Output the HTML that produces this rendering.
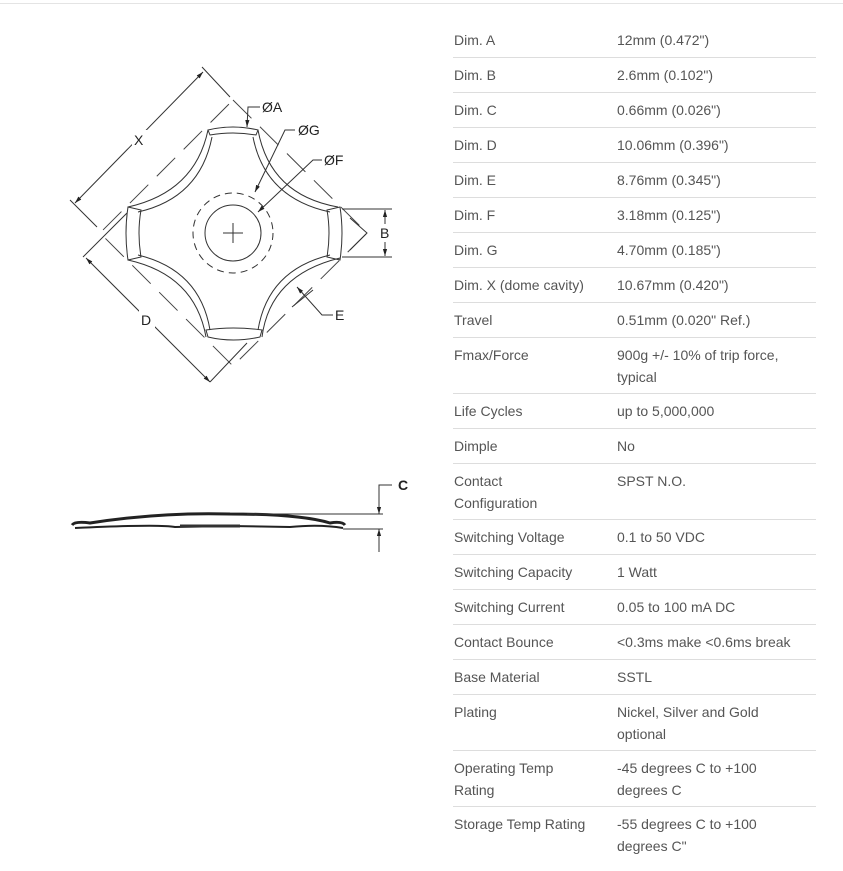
<!DOCTYPE html>
<html><head><meta charset="utf-8"><style>
body{margin:0;width:843px;height:871px;background:#fff;position:relative;overflow:hidden;font-family:"Liberation Sans",sans-serif;}
.t{position:absolute;font-size:14px;line-height:22px;color:#555;}
.l{position:absolute;left:453px;width:363px;height:1px;background:#ddd;}
</style></head><body>
<div style="position:absolute;left:0;top:3px;width:843px;height:1px;background:#e4e4e4"></div>
<svg width="843" height="871" style="position:absolute;left:0;top:0" font-family="Liberation Sans, sans-serif">
<defs><marker id="ar" viewBox="0 0 10 10" refX="10" refY="5" markerWidth="7" markerHeight="7" orient="auto-start-reverse"><path d="M0,2 L10,5 L0,8z" fill="#222"/></marker></defs>
<g fill="none" stroke="#333" stroke-width="1">
<path d="M208,130 Q233,124 258,130 L256,135 Q233,131 210,135 Z"/>
<path d="M208,337 Q233,343 260,337 L262,330 Q233,326 206,330 Z"/>
<path d="M128,207 Q124,233 128,260 L141,257 Q137,233 141,210 Z"/>
<path d="M340,207 Q344,233 340,260 L327,257 Q331,233 327,210 Z"/>
<path d="M258,130 Q270,195 338,207"/>
<path d="M340,258 Q270,275 262,337"/>
<path d="M206,337 Q195,275 128,260"/>
<path d="M128,207 Q195,192 208,130"/>
<path d="M253,137 Q265,198 330,212"/>
<path d="M330,255 Q268,270 258,330"/>
<path d="M210,330 Q200,270 138,255"/>
<path d="M138,212 Q200,198 212,137"/>
<path d="M233,100 L367,233 L233,366 L100,233 Z" stroke-dasharray="26 12" stroke="#444"/>
<circle cx="233" cy="233" r="28"/>
<circle cx="233" cy="233" r="40" stroke-dasharray="7 5"/>
<path d="M233,223 V243 M223,233 H243"/>
<path d="M202,67 L230,97 M70,200 L97,227"/>
<line x1="203" y1="72" x2="75" y2="203" marker-start="url(#ar)" marker-end="url(#ar)"/>
<path d="M83,257 L127,213 M210,382 L247,343"/>
<line x1="86" y1="258" x2="210" y2="382" marker-start="url(#ar)" marker-end="url(#ar)"/>
<path d="M342,209 H392 M342,257 H392"/>
<line x1="385" y1="210" x2="385" y2="256" marker-start="url(#ar)" marker-end="url(#ar)"/>
<path d="M350,218 L367,233 L350,250"/>
<path d="M260,107 H248 L247,127" marker-end="url(#ar)"/>
<path d="M295,130 H285 L255,192" marker-end="url(#ar)"/>
<path d="M322,160 H313 L258,212" marker-end="url(#ar)"/>
<path d="M333,315 H322 L297,287" marker-end="url(#ar)"/>
<path d="M292,307 L313,290"/>
<path d="M72,525 Q75,521 90,523 Q160,512 230,514 Q300,514 330,523 Q342,521 345,525" stroke-width="3" stroke="#222"/>
<path d="M75,528 Q160,524 175,527 L230,526 L290,527 Q320,524 343,528" stroke-width="2" stroke="#222"/>
<path d="M180,526 H240" stroke-width="3" stroke="#333"/>
<path d="M247,514 H383 M343,529 H383"/>
<path d="M392,485 H379 V514" marker-end="url(#ar)"/>
<line x1="379" y1="552" x2="379" y2="529" marker-end="url(#ar)"/>
</g>
<g fill="#fff">
<rect x="132" y="130" width="15" height="18"/>
<rect x="139" y="310" width="16" height="18"/>
<rect x="377" y="224" width="16" height="18"/>
</g>
<g fill="#222" font-size="14">
<text x="134" y="145">X</text>
<text x="141" y="325">D</text>
<text x="380" y="238">B</text>
<text x="262" y="112">ØA</text>
<text x="298" y="135">ØG</text>
<text x="324" y="165">ØF</text>
<text x="335" y="320">E</text>
<text x="398" y="490" font-weight="bold">C</text>
</g>
</svg>
<div class="l" style="top:57px"></div><div class="l" style="top:92px"></div><div class="l" style="top:127px"></div><div class="l" style="top:162px"></div><div class="l" style="top:197px"></div><div class="l" style="top:232px"></div><div class="l" style="top:267px"></div><div class="l" style="top:302px"></div><div class="l" style="top:337px"></div><div class="l" style="top:393px"></div><div class="l" style="top:428px"></div><div class="l" style="top:463px"></div><div class="l" style="top:519px"></div><div class="l" style="top:554px"></div><div class="l" style="top:589px"></div><div class="l" style="top:624px"></div><div class="l" style="top:659px"></div><div class="l" style="top:694px"></div><div class="l" style="top:750px"></div><div class="l" style="top:806px"></div>

<div class="t" style="left:454px;top:29px">Dim. A</div><div class="t" style="left:617px;top:29px">12mm (0.472")</div>
<div class="t" style="left:454px;top:64px">Dim. B</div><div class="t" style="left:617px;top:64px">2.6mm (0.102")</div>
<div class="t" style="left:454px;top:99px">Dim. C</div><div class="t" style="left:617px;top:99px">0.66mm (0.026")</div>
<div class="t" style="left:454px;top:134px">Dim. D</div><div class="t" style="left:617px;top:134px">10.06mm (0.396")</div>
<div class="t" style="left:454px;top:169px">Dim. E</div><div class="t" style="left:617px;top:169px">8.76mm (0.345")</div>
<div class="t" style="left:454px;top:204px">Dim. F</div><div class="t" style="left:617px;top:204px">3.18mm (0.125")</div>
<div class="t" style="left:454px;top:239px">Dim. G</div><div class="t" style="left:617px;top:239px">4.70mm (0.185")</div>
<div class="t" style="left:454px;top:274px">Dim. X (dome cavity)</div><div class="t" style="left:617px;top:274px">10.67mm (0.420")</div>
<div class="t" style="left:454px;top:309px">Travel</div><div class="t" style="left:617px;top:309px">0.51mm (0.020" Ref.)</div>
<div class="t" style="left:454px;top:344px">Fmax/Force</div><div class="t" style="left:617px;top:344px;width:190px">900g +/- 10% of trip force,<br>typical</div>
<div class="t" style="left:454px;top:400px">Life Cycles</div><div class="t" style="left:617px;top:400px">up to 5,000,000</div>
<div class="t" style="left:454px;top:435px">Dimple</div><div class="t" style="left:617px;top:435px">No</div>
<div class="t" style="left:454px;top:470px">Contact<br>Configuration</div><div class="t" style="left:617px;top:470px">SPST N.O.</div>
<div class="t" style="left:454px;top:526px">Switching Voltage</div><div class="t" style="left:617px;top:526px">0.1 to 50 VDC</div>
<div class="t" style="left:454px;top:561px">Switching Capacity</div><div class="t" style="left:617px;top:561px">1 Watt</div>
<div class="t" style="left:454px;top:596px">Switching Current</div><div class="t" style="left:617px;top:596px">0.05 to 100 mA DC</div>
<div class="t" style="left:454px;top:631px">Contact Bounce</div><div class="t" style="left:617px;top:631px">&lt;0.3ms make &lt;0.6ms break</div>
<div class="t" style="left:454px;top:666px">Base Material</div><div class="t" style="left:617px;top:666px">SSTL</div>
<div class="t" style="left:454px;top:701px">Plating</div><div class="t" style="left:617px;top:701px">Nickel, Silver and Gold<br>optional</div>
<div class="t" style="left:454px;top:757px">Operating Temp<br>Rating</div><div class="t" style="left:617px;top:757px">-45 degrees C to +100<br>degrees C</div>
<div class="t" style="left:454px;top:813px">Storage Temp Rating</div><div class="t" style="left:617px;top:813px">-55 degrees C to +100<br>degrees C"</div>
</body></html>
